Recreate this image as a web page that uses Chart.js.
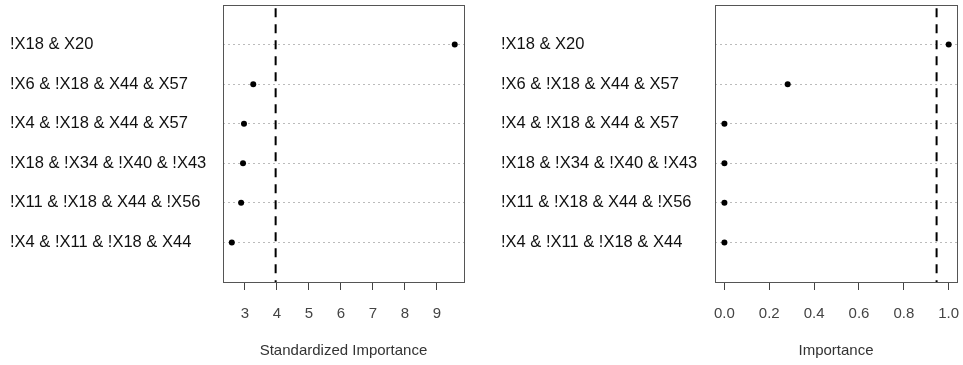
<!DOCTYPE html>
<html>
<head>
<meta charset="utf-8">
<script src="https://cdn.jsdelivr.net/npm/chart.js@4"></script>
<style>
  html, body { margin: 0; padding: 0; background: #fff; }
  .panel { position: absolute; top: 0; height: 365px; }
  #left { left: 0; width: 480px; }
  #right { left: 480px; width: 483px; }
</style>
</head>
<body>
<div class="panel" id="left"><canvas id="stdChart"></canvas></div>
<div class="panel" id="right"><canvas id="impChart"></canvas></div>
<script>
const rules = [
    "!X18 & X20",
    "!X6 & !X18 & X44 & X57",
    "!X4 & !X18 & X44 & X57",
    "!X18 & !X34 & !X40 & !X43",
    "!X11 & !X18 & X44 & !X56",
    "!X4 & !X11 & !X18 & X44"
];
const standardized = [9.56, 3.26, 2.97, 2.94, 2.88, 2.59];
const importance = [1.0, 0.282, 0.0, 0.0, 0.0, 0.0];
const stdTicks = [3, 4, 5, 6, 7, 8, 9];
const impTicks = [0, 0.2, 0.4, 0.6, 0.8, 1.0];
const stdCutoff = 3.96;
const impCutoff = 0.946;

const FONT = "'Liberation Sans', Arial, sans-serif";

// closed box round the plot region, like R does
const boxPlugin = {
    id: "box",
    afterDraw(chart) {
        const a = chart.chartArea;
        const ctx = chart.ctx;
        ctx.save();
        ctx.strokeStyle = "#555";
        ctx.lineWidth = 1;
        ctx.strokeRect(Math.round(a.left) + 0.5, Math.round(a.top) + 0.5,
            Math.round(a.right - a.left), Math.round(a.bottom - a.top));
        ctx.restore();
    }
};

function makeDotChart(canvas, values, ticks, xmin, xmax, cutoff, title, padLeft, yWidth, padRight, decimals) {
    const points = values.map((v, i) => ({ x: v, y: i + 1 }));
    return new Chart(canvas, {
        type: "scatter",
        data: {
            datasets: [{
                data: points,
                backgroundColor: "#000",
                borderColor: "#000",
                pointRadius: 3,
                pointHoverRadius: 3,
                pointBorderWidth: 0
            }, {
                type: "line",
                data: [{ x: cutoff, y: 0.08 }, { x: cutoff, y: 7 }],
                borderColor: "#000",
                borderWidth: 2,
                borderDash: [9, 7],
                pointRadius: 0,
                fill: false
            }]
        },
        options: {
            responsive: true,
            maintainAspectRatio: false,
            animation: false,
            layout: { padding: { left: padLeft, right: padRight, top: 5, bottom: 0 } },
            plugins: {
                legend: { display: false },
                tooltip: { enabled: false }
            },
            scales: {
                x: {
                    type: "linear",
                    min: xmin,
                    max: xmax,
                    afterBuildTicks: (axis) => { axis.ticks = ticks.map(v => ({ value: v })); },
                    afterFit: (axis) => {
                        axis.height = 83;
                        axis.paddingLeft = 0;
                        axis.paddingRight = 0;
                    },
                    grid: {
                        drawOnChartArea: false,
                        drawTicks: true,
                        tickLength: 8,
                        color: "#444"
                    },
                    border: { display: false },
                    ticks: {
                        padding: 15,
                        maxRotation: 0,
                        autoSkip: false,
                        color: "#444",
                        font: { family: FONT, size: 15 },
                        callback: (v) => decimals ? Number(v).toFixed(decimals) : String(v)
                    },
                    title: {
                        display: true,
                        text: title,
                        color: "#333",
                        font: { family: FONT, size: 15 },
                        padding: { top: 0, bottom: 5 }
                    }
                },
                y: {
                    type: "linear",
                    reverse: true,
                    min: 0,
                    max: 7,
                    afterBuildTicks: (axis) => { axis.ticks = rules.map((r, i) => ({ value: i + 1 })); },
                    afterFit: (axis) => {
                        axis.width = yWidth;
                        axis.paddingTop = 0;
                        axis.paddingBottom = 0;
                    },
                    grid: {
                        drawTicks: false,
                        color: "#bbb",
                        lineWidth: 1
                    },
                    // in v4 the grid line dash comes from border.dash
                    border: { display: false, dash: [2, 3] },
                    ticks: {
                        crossAlign: "far",
                        autoSkip: false,
                        color: "#111",
                        font: { family: FONT, size: 16.5 },
                        callback: (v) => rules[v - 1]
                    }
                }
            }
        },
        plugins: [boxPlugin]
    });
}

makeDotChart(document.getElementById("stdChart"), standardized, stdTicks, 2.314, 9.85,
    stdCutoff, "Standardized Importance", 10, 213, 16, 0);
makeDotChart(document.getElementById("impChart"), importance, impTicks, -0.042, 1.037,
    impCutoff, "Importance", 21, 214, 6, 1);
</script>
</body>
</html>
